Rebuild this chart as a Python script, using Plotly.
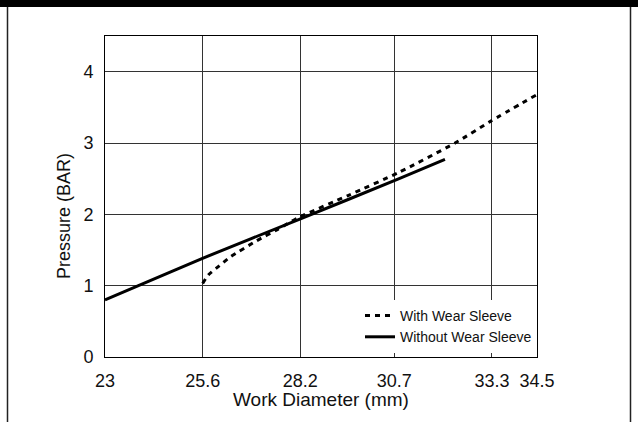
import plotly.graph_objects as go

# ---- data ----
x_tick_vals = [23, 25.6, 28.2, 30.7, 33.3, 34.5]
x_tick_text = ["23", "25.6", "28.2", "30.7", "33.3", "34.5"]
y_tick_vals = [0, 1, 2, 3, 4]

with_sleeve_x = [25.6, 25.75, 26.0, 26.33, 27.04, 27.6, 28.17, 29.5, 30.83, 32.32, 33.25, 34.47]
with_sleeve_y = [1.03, 1.15, 1.26, 1.40, 1.63, 1.79, 1.96, 2.27, 2.59, 3.00, 3.30, 3.67]

without_sleeve_x = [23.0, 23.89, 25.58, 28.17, 30.83, 32.05]
without_sleeve_y = [0.80, 1.00, 1.38, 1.93, 2.50, 2.77]

FONT = "Liberation Sans, Arial, Helvetica, sans-serif"

W, H = 638, 422
L, R, T, B = 105, 101, 36, 65
PW, PH = W - L - R, H - T - B


def px(xp):
    return (xp - L) / PW


def py(yp):
    return (H - B - yp) / PH


fig = go.Figure()
fig.add_trace(go.Scatter(
    x=with_sleeve_x, y=with_sleeve_y, mode="lines", name="With Wear Sleeve",
    line=dict(color="black", width=3, dash="5px,5px", shape="spline", smoothing=0.6),
))
fig.add_trace(go.Scatter(
    x=without_sleeve_x, y=without_sleeve_y, mode="lines", name="Without Wear Sleeve",
    line=dict(color="black", width=3, shape="spline", smoothing=0.6),
))

axis_common = dict(
    showgrid=True, gridcolor="#333333", gridwidth=1,
    showline=True, linecolor="black", linewidth=1, mirror=True,
    zeroline=False, ticks="",
    tickfont=dict(family=FONT, size=18, color="#111111"),
)

fig.update_xaxes(range=[23, 34.5], tickvals=x_tick_vals, ticktext=x_tick_text,
                 ticklabelstandoff=7, **axis_common)
fig.update_yaxes(range=[0, 4.5], tickvals=y_tick_vals, ticklabelstandoff=7, **axis_common)

shapes = [
    # black band at top
    dict(type="rect", xref="paper", yref="paper", x0=px(-5), x1=px(W + 5), y0=py(7), y1=py(-5),
         fillcolor="black", line=dict(width=0), layer="above"),
    # side frame lines
    dict(type="line", xref="paper", yref="paper", x0=px(7.5), x1=px(7.5), y0=py(7), y1=py(H + 5),
         line=dict(color="#222222", width=1.5)),
    dict(type="line", xref="paper", yref="paper", x0=px(630.5), x1=px(630.5), y0=py(7), y1=py(H + 5),
         line=dict(color="#222222", width=1.5)),
]

annotations = [
    dict(text="Work Diameter (mm)", xref="paper", yref="paper", x=0.5, y=py(399),
         xanchor="center", yanchor="middle", showarrow=False,
         font=dict(family=FONT, size=19, color="#111111")),
    dict(text="Pressure (BAR)", xref="paper", yref="paper", x=px(64), y=py(216),
         xanchor="center", yanchor="middle", textangle=-90, showarrow=False,
         font=dict(family=FONT, size=18, color="#111111")),
]

fig.update_layout(
    width=W, height=H,
    margin=dict(l=L, r=R, t=T, b=B),
    paper_bgcolor="white", plot_bgcolor="white",
    shapes=shapes, annotations=annotations,
    showlegend=True,
    legend=dict(x=1, xanchor="right", y=py(353), yanchor="bottom",
                bgcolor="white", borderwidth=0,
                font=dict(family=FONT, size=14, color="#111111"),
                tracegroupgap=0),
)

fig.write_html("out.html", config={"displayModeBar": False},
               post_script="document.body.style.margin='0';")
